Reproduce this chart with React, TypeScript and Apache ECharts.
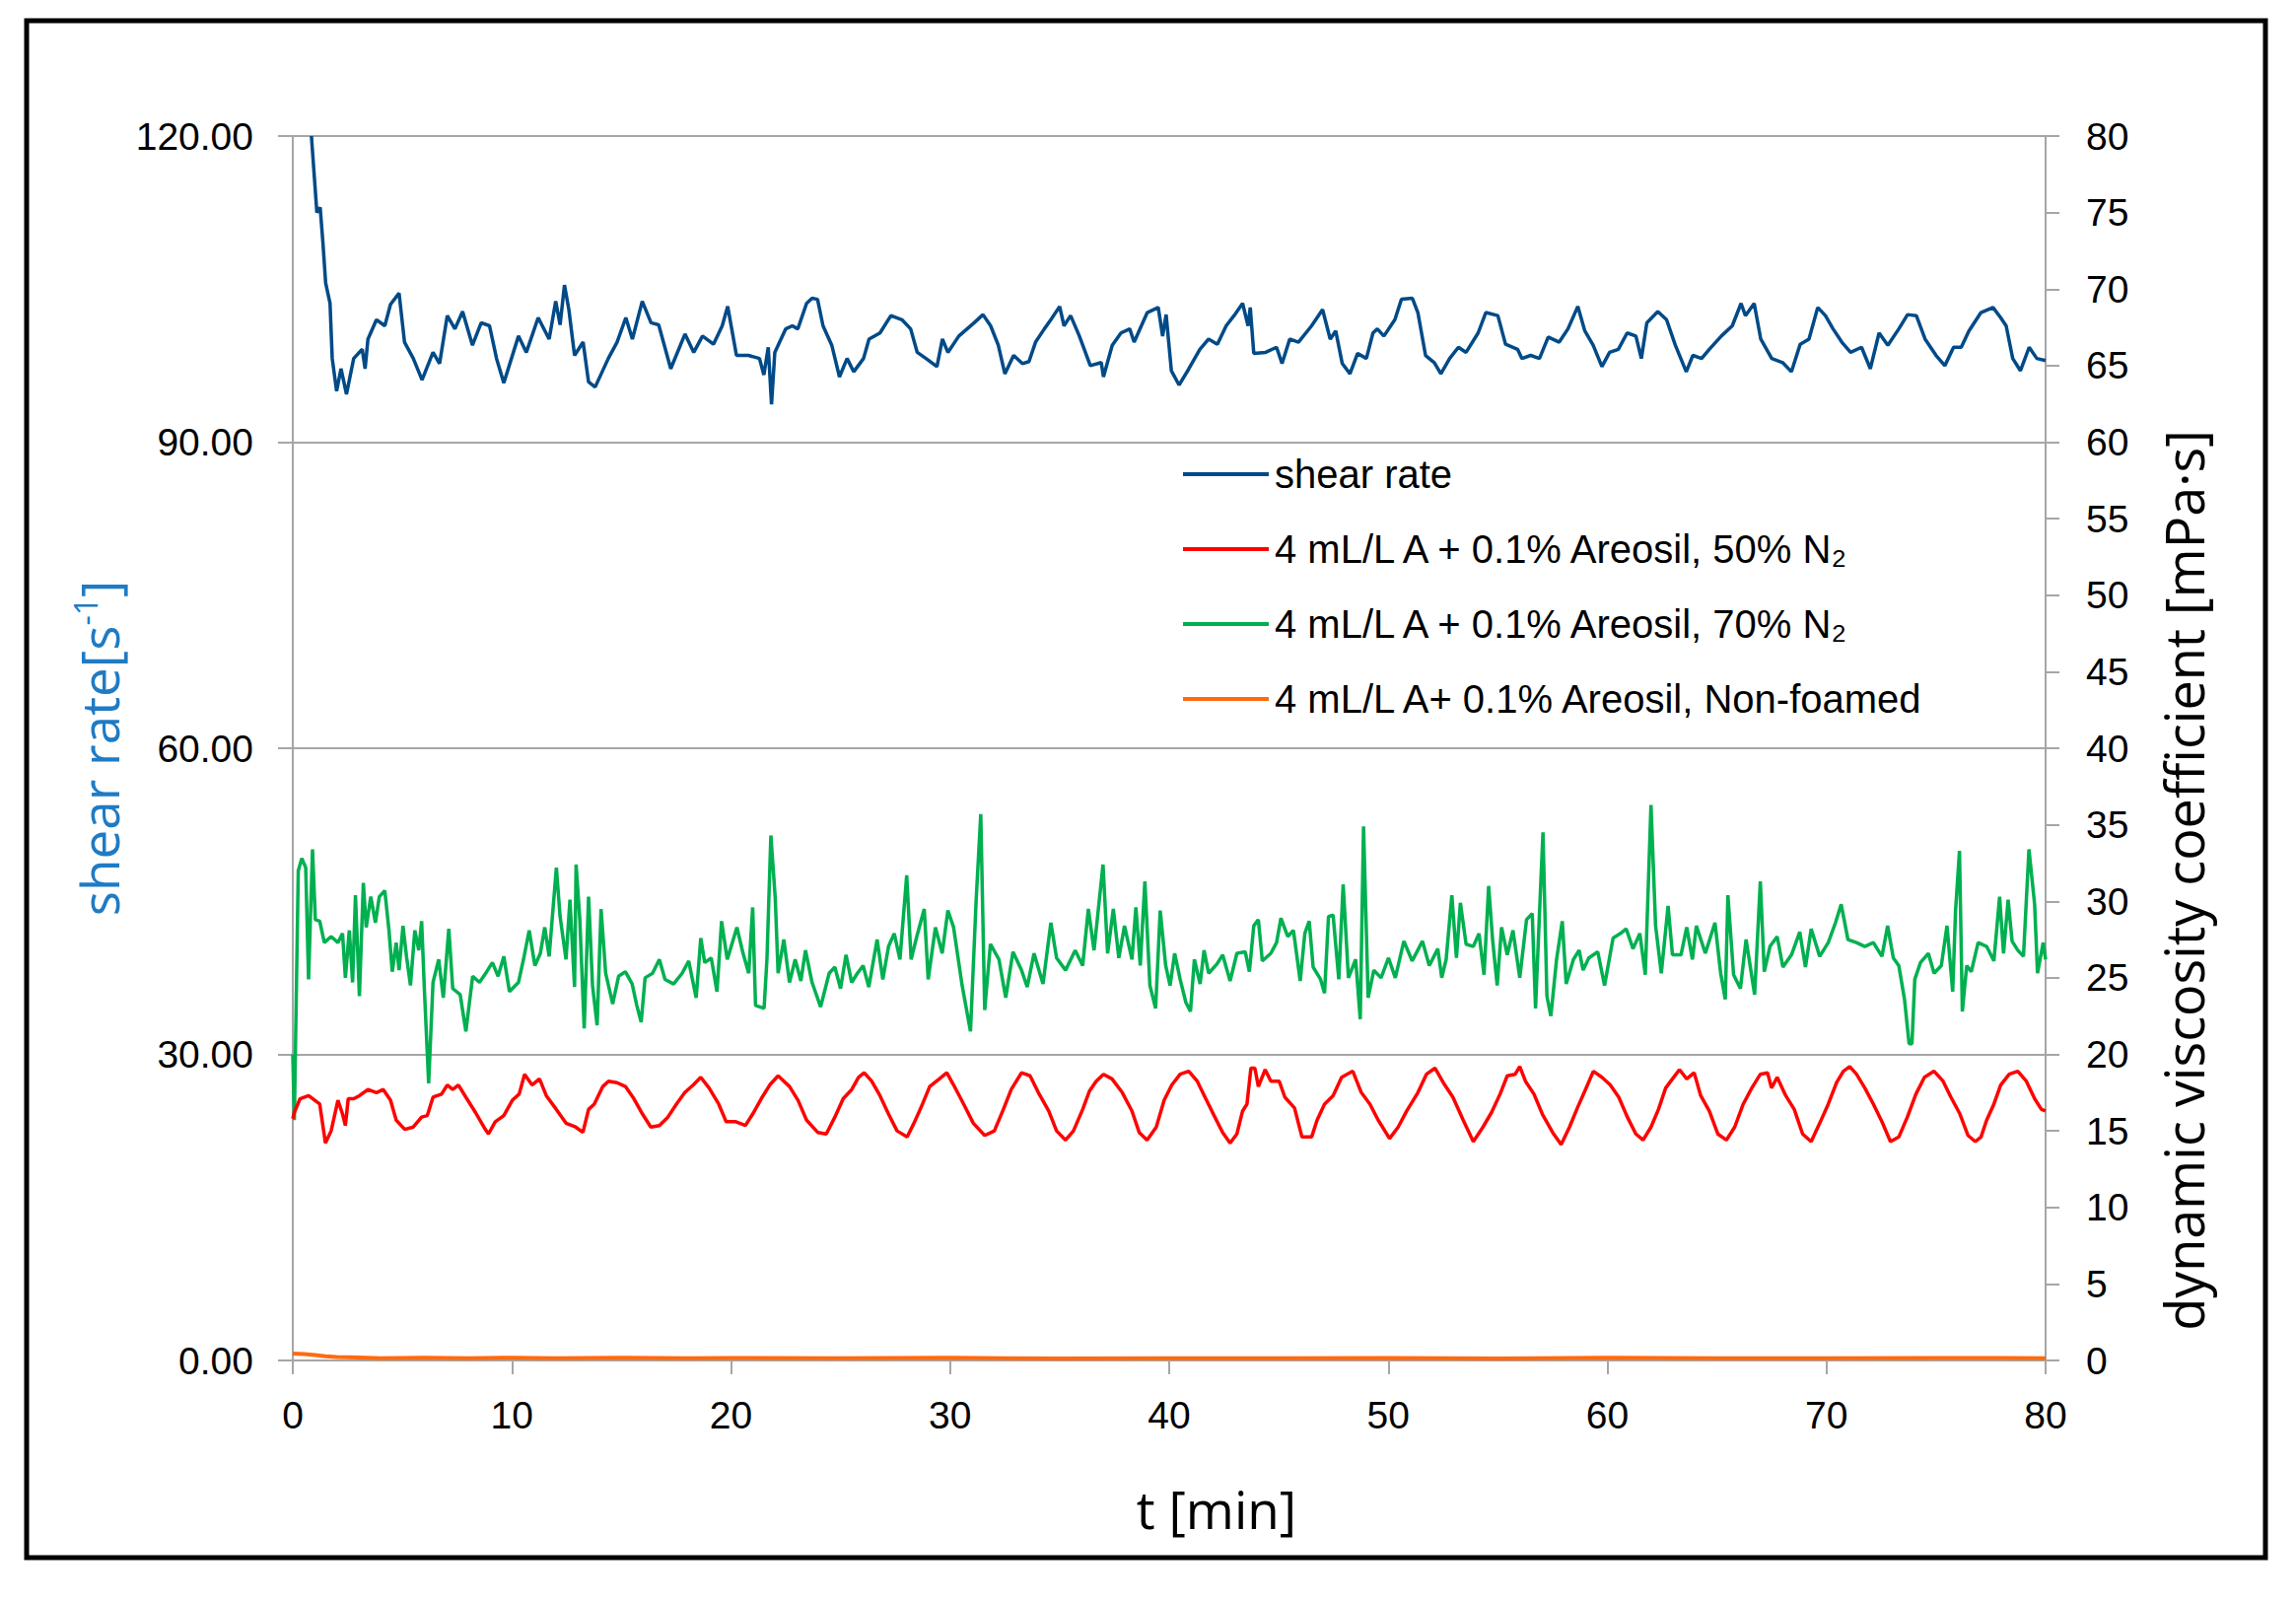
import React, { useEffect, useRef } from "react";
import * as echarts from "echarts";

// ---------- data (t [min], value) ----------
const xTicks = [0, 10, 20, 30, 40, 50, 60, 70, 80];

const seriesNames = [
  "shear rate",
  "4 mL/L A + 0.1% Areosil, 50% N₂",
  "4 mL/L A + 0.1% Areosil, 70% N₂",
  "4 mL/L A+ 0.1% Areosil, Non-foamed",
];

const seriesColors = ["#004A87", "#FF0000", "#00B050", "#FF6A10"];

// shear rate [1/s], left axis
const shearRate = [
  [0.85, 120], [1.1, 112.5], [1.25, 113], [1.38, 109.4], [1.5, 105.6], [1.7, 103.6], [1.8, 98.2], [2.0, 95], [2.2, 97.2], [2.45, 94.7],
  [2.78, 98.2], [3.17, 99.1], [3.3, 97.2], [3.43, 100.1], [3.82, 102.0], [4.2, 101.4], [4.46, 103.5], [4.85, 104.6], [5.1, 99.8], [5.5, 98.2],
  [5.9, 96.1], [6.4, 98.8], [6.7, 97.7], [7.05, 102.4], [7.4, 101.1], [7.75, 102.8], [8.2, 99.5], [8.6, 101.7], [8.98, 101.4], [9.3, 98.2],
  [9.63, 95.8], [10.3, 100.4], [10.66, 98.8], [11.2, 102.2], [11.7, 100.1], [12.0, 103.8], [12.2, 101.5], [12.4, 105.4], [12.6, 103], [12.86, 98.5],
  [13.25, 99.8], [13.5, 95.9], [13.8, 95.4], [14.4, 98.2], [14.8, 99.8], [15.2, 102.2], [15.5, 100.1], [15.95, 103.8], [16.35, 101.7], [16.7, 101.5],
  [17.25, 97.2], [17.9, 100.6], [18.3, 98.8], [18.7, 100.4], [19.2, 99.6], [19.6, 101.4], [19.85, 103.3], [20.25, 98.5], [20.8, 98.5], [21.3, 98.2],
  [21.5, 96.6], [21.7, 99.3], [21.85, 93.7], [22.0, 98.8], [22.5, 101.1], [22.8, 101.4], [23.05, 101.1], [23.45, 103.6], [23.7, 104.1], [23.95, 104],
  [24.2, 101.4], [24.6, 99.5], [24.95, 96.4], [25.3, 98.2], [25.6, 96.9], [26.05, 98.2], [26.3, 100.1], [26.8, 100.7], [27.3, 102.4], [27.8, 102.0],
  [28.2, 101.1], [28.5, 98.8], [28.9, 98.2], [29.4, 97.4], [29.65, 100.1], [29.9, 98.8], [30.4, 100.4], [31.1, 101.7], [31.5, 102.5], [31.85, 101.4],
  [32.2, 99.5], [32.5, 96.7], [32.9, 98.5], [33.3, 97.7], [33.6, 97.9], [33.9, 99.8], [34.3, 101.1], [34.6, 102], [35.0, 103.3], [35.2, 101.4],
  [35.5, 102.4], [35.9, 100.4], [36.4, 97.5], [36.9, 97.8], [37.0, 96.4], [37.4, 99.5], [37.8, 100.7], [38.2, 101.1], [38.4, 99.8], [39.0, 102.7],
  [39.5, 103.2], [39.7, 100.4], [39.86, 102.5], [40.1, 97], [40.45, 95.6], [40.9, 97.2], [41.4, 99.1], [41.8, 100.1], [42.2, 99.6], [42.6, 101.4],
  [42.96, 102.4], [43.35, 103.6], [43.6, 101.4], [43.7, 103.2], [43.86, 98.7], [44.4, 98.8], [44.9, 99.3], [45.15, 97.7], [45.5, 100.1], [45.9, 99.8],
  [46.5, 101.4], [47.0, 103], [47.35, 100.1], [47.6, 100.9], [47.9, 97.7], [48.25, 96.7], [48.6, 98.7], [49.0, 98.2], [49.3, 100.7], [49.5, 101.1],
  [49.8, 100.4], [50.3, 102.0], [50.6, 104.0], [51.1, 104.1], [51.35, 102.7], [51.7, 98.5], [52.1, 97.8], [52.4, 96.7], [52.8, 98.2], [53.2, 99.3],
  [53.55, 98.8], [54.1, 100.7], [54.45, 102.7], [55.0, 102.4], [55.35, 99.6], [55.9, 99.1], [56.1, 98.2], [56.5, 98.5], [56.9, 98.2], [57.3, 100.3],
  [57.8, 99.8], [58.2, 101.1], [58.65, 103.3], [58.97, 100.9], [59.35, 99.5], [59.75, 97.4], [60.1, 98.8], [60.5, 99.1], [60.9, 100.7], [61.3, 100.4],
  [61.55, 98.2], [61.8, 101.7], [62.3, 102.8], [62.7, 102.0], [63.1, 99.5], [63.6, 96.9], [63.9, 98.5], [64.3, 98.2], [64.65, 99.1], [65.2, 100.4],
  [65.7, 101.4], [66.1, 103.6], [66.3, 102.4], [66.7, 103.6], [67.0, 100.1], [67.5, 98.2], [68.0, 97.8], [68.4, 96.9], [68.8, 99.6], [69.2, 100.1],
  [69.6, 103.2], [69.95, 102.4], [70.3, 101.1], [70.7, 99.8], [71.1, 98.8], [71.6, 99.3], [72.0, 97.2], [72.4, 100.7], [72.8, 99.5], [73.3, 101.1],
  [73.7, 102.5], [74.1, 102.4], [74.5, 100.1], [75.0, 98.5], [75.4, 97.5], [75.8, 99.3], [76.15, 99.3], [76.5, 100.9], [77.05, 102.7], [77.6, 103.2],
  [77.95, 102.2], [78.2, 101.4], [78.5, 98.2], [78.85, 97.0], [79.25, 99.3], [79.6, 98.2], [80.0, 98.0],
];

// dynamic viscosity [mPa·s], right axis — 50% N2
const visc50 = [
  [0, 15.8], [0.07, 16.2], [0.33, 17.1], [0.72, 17.3], [1.23, 16.75], [1.49, 14.2], [1.75, 15.0], [2.06, 17], [2.27, 16.1], [2.4, 15.35],
  [2.53, 17.1], [2.78, 17.1], [3.04, 17.3], [3.43, 17.7], [3.82, 17.5], [4.13, 17.7], [4.46, 17], [4.72, 15.7], [5.11, 15.1], [5.5, 15.25],
  [5.88, 15.9], [6.14, 16], [6.4, 17.2], [6.79, 17.4], [7.05, 18.0], [7.3, 17.7], [7.56, 18.0], [7.9, 17.2], [8.34, 16.2], [8.72, 15.25],
  [8.93, 14.8], [9.24, 15.6], [9.63, 16], [10.02, 17], [10.33, 17.4], [10.58, 18.7], [10.92, 18.0], [11.26, 18.4], [11.57, 17.3], [12.03, 16.4],
  [12.47, 15.5], [12.91, 15.25], [13.24, 14.9], [13.5, 16.4], [13.76, 16.75], [14.15, 17.9], [14.41, 18.25], [14.8, 18.15], [15.18, 17.9], [15.57, 17.1],
  [15.96, 16.1], [16.34, 15.25], [16.73, 15.35], [17.12, 15.9], [17.51, 16.75], [17.89, 17.5], [18.28, 18.0], [18.62, 18.5], [19.0, 17.8], [19.44, 16.75],
  [19.78, 15.6], [20.22, 15.6], [20.66, 15.35], [20.99, 16.1], [21.38, 17.1], [21.77, 18.0], [22.15, 18.6], [22.67, 17.9], [23.06, 17], [23.45, 15.7],
  [23.96, 14.9], [24.35, 14.8], [24.74, 15.9], [25.12, 17.1], [25.51, 17.7], [25.82, 18.5], [26.08, 18.8], [26.42, 18.25], [26.8, 17.3], [27.19, 16.1],
  [27.58, 15.0], [28.04, 14.6], [28.35, 15.5], [28.74, 16.75], [29.07, 17.9], [29.51, 18.4], [29.85, 18.8], [30.16, 18.0], [30.62, 16.75], [31.06, 15.5],
  [31.58, 14.7], [32.02, 15.0], [32.43, 16.4], [32.79, 17.7], [33.26, 18.8], [33.65, 18.6], [34.03, 17.5], [34.5, 16.3], [34.86, 15.0], [35.27, 14.4],
  [35.63, 15.0], [36.05, 16.4], [36.36, 17.6], [36.67, 18.25], [37.0, 18.7], [37.39, 18.4], [37.86, 17.5], [38.3, 16.3], [38.63, 14.9], [38.99, 14.4],
  [39.41, 15.25], [39.77, 17], [40.12, 18.0], [40.5, 18.7], [40.89, 18.9], [41.28, 18.25], [41.67, 17.1], [42.05, 16], [42.44, 14.9], [42.78, 14.2],
  [43.09, 14.8], [43.35, 16.3], [43.55, 16.75], [43.73, 19.1], [43.91, 19.1], [44.07, 17.9], [44.38, 19], [44.64, 18.25], [45.02, 18.25], [45.28, 17.2],
  [45.72, 16.5], [46.06, 14.6], [46.5, 14.6], [46.75, 15.7], [47.09, 16.75], [47.48, 17.3], [47.87, 18.5], [48.38, 18.9], [48.77, 17.5], [49.16, 16.75],
  [49.54, 15.7], [50.06, 14.5], [50.45, 15.25], [50.84, 16.3], [51.35, 17.5], [51.74, 18.7], [52.13, 19.1], [52.51, 18.15], [52.95, 17.2], [53.42, 15.7],
  [53.88, 14.3], [54.32, 15.25], [54.71, 16.2], [55.1, 17.4], [55.43, 18.6], [55.79, 18.7], [56.0, 19.2], [56.26, 18.25], [56.65, 17.4], [57.03, 16.1],
  [57.5, 14.9], [57.89, 14.1], [58.27, 15.25], [58.63, 16.5], [58.97, 17.6], [59.36, 18.9], [59.75, 18.5], [60.13, 18.0], [60.52, 17.2], [60.91, 15.9],
  [61.3, 14.8], [61.63, 14.4], [61.99, 15.25], [62.33, 16.4], [62.66, 17.8], [62.97, 18.4], [63.29, 19], [63.62, 18.4], [63.96, 18.8], [64.26, 17.3],
  [64.65, 16.3], [65.04, 14.8], [65.43, 14.4], [65.81, 15.25], [66.2, 16.75], [66.59, 17.8], [66.98, 18.7], [67.31, 18.8], [67.49, 17.8], [67.75, 18.5],
  [68.14, 17.3], [68.53, 16.4], [68.91, 14.8], [69.3, 14.3], [69.69, 15.5], [70.08, 16.75], [70.46, 18.15], [70.77, 18.9], [71.06, 19.2], [71.37, 18.7],
  [71.75, 17.8], [72.14, 16.75], [72.53, 15.6], [72.92, 14.3], [73.3, 14.6], [73.69, 15.9], [74.08, 17.4], [74.47, 18.5], [74.91, 18.9], [75.32, 18.25],
  [75.68, 17.2], [76.09, 16.1], [76.46, 14.7], [76.79, 14.3], [77.05, 14.6], [77.31, 15.7], [77.64, 16.75], [77.95, 18.0], [78.34, 18.7], [78.73, 18.9],
  [79.12, 18.25], [79.5, 17.1], [79.81, 16.4], [80.0, 16.3],
];

// dynamic viscosity [mPa·s], right axis — 70% N2
const visc70 = [
  [0, 20], [0.07, 15.7], [0.25, 32], [0.41, 32.8], [0.59, 32.2], [0.72, 24.9], [0.9, 33.4], [1.03, 28.8], [1.23, 28.7], [1.44, 27.3],
  [1.75, 27.7], [2.06, 27.3], [2.27, 27.9], [2.4, 25], [2.58, 28.1], [2.73, 24.7], [2.86, 30.4], [3.04, 23.8], [3.22, 31.2], [3.35, 28.3],
  [3.56, 30.3], [3.77, 28.6], [3.95, 30.3], [4.2, 30.7], [4.39, 28.1], [4.54, 25.4], [4.72, 27.3], [4.85, 25.5], [5.03, 28.4], [5.19, 26.4],
  [5.37, 24.5], [5.57, 28.1], [5.75, 26.8], [5.88, 28.7], [6.01, 24.1], [6.2, 18.1], [6.4, 24.7], [6.66, 26.2], [6.87, 23.7], [7.12, 28.2],
  [7.3, 24.3], [7.64, 23.9], [7.9, 21.5], [8.21, 25.1], [8.52, 24.7], [8.85, 25.4], [9.11, 26], [9.37, 25.1], [9.63, 26.4], [9.89, 24.1],
  [10.3, 24.7], [10.53, 26.2], [10.79, 28.1], [11.05, 25.8], [11.3, 26.6], [11.5, 28.3], [11.7, 26.4], [12.03, 32.2], [12.2, 29], [12.47, 26.2],
  [12.65, 30.1], [12.86, 24.4], [12.93, 32.4], [13.1, 28.8], [13.3, 21.7], [13.5, 30.3], [13.68, 24.5], [13.89, 21.9], [14.07, 29.5], [14.28, 25.3],
  [14.6, 23.3], [14.87, 25.1], [15.18, 25.4], [15.49, 24.6], [15.7, 23.2], [15.9, 22.1], [16.08, 25], [16.42, 25.3], [16.73, 26.2], [16.99, 24.9],
  [17.38, 24.6], [17.77, 25.3], [18.07, 26.1], [18.41, 23.7], [18.62, 27.6], [18.8, 26], [19.1, 26.3], [19.36, 24.1], [19.57, 28.7], [19.83, 26.2],
  [20.27, 28.3], [20.55, 26.6], [20.81, 25.3], [20.99, 29.6], [21.12, 23.2], [21.51, 23], [21.64, 26.2], [21.82, 34.3], [22.02, 30.2], [22.15, 25.3],
  [22.41, 27.5], [22.67, 24.7], [22.93, 26.2], [23.19, 24.8], [23.4, 26.8], [23.7, 24.7], [24.09, 23.1], [24.48, 25.3], [24.74, 25.7], [25.0, 24.3],
  [25.25, 26.5], [25.51, 24.7], [25.77, 25.3], [26.03, 25.8], [26.29, 24.4], [26.67, 27.5], [26.93, 24.9], [27.19, 27.05], [27.45, 27.9], [27.71, 26.2],
  [28.02, 31.7], [28.22, 26.2], [28.48, 27.7], [28.82, 29.5], [29.0, 24.9], [29.33, 28.3], [29.64, 26.6], [29.9, 29.4], [30.16, 28.3], [30.55, 24.5],
  [30.93, 21.5], [31.19, 30.1], [31.4, 35.7], [31.58, 22.9], [31.84, 27.2], [32.23, 26.2], [32.54, 23.7], [32.87, 26.7], [33.26, 25.5], [33.52, 24.4],
  [33.83, 26.6], [34.24, 24.6], [34.6, 28.6], [34.86, 26.3], [35.27, 25.5], [35.71, 26.8], [36.05, 25.8], [36.31, 29.5], [36.57, 26.8], [36.98, 32.4],
  [37.19, 26.6], [37.45, 29.5], [37.7, 26.3], [37.96, 28.4], [38.3, 26.2], [38.48, 29.6], [38.68, 25.8], [38.89, 31.3], [39.12, 24.5], [39.38, 23],
  [39.59, 29.4], [39.84, 25.8], [40.04, 24.5], [40.25, 26.6], [40.5, 24.9], [40.76, 23.4], [40.97, 22.8], [41.15, 26.2], [41.41, 24.6], [41.59, 26.8],
  [41.8, 25.3], [42.18, 25.9], [42.44, 26.5], [42.78, 24.8], [43.09, 26.6], [43.47, 26.7], [43.66, 25.4], [43.86, 28.4], [44.07, 28.8], [44.25, 26.1],
  [44.64, 26.6], [44.9, 27.3], [45.1, 28.9], [45.41, 27.7], [45.67, 28.1], [45.98, 24.8], [46.19, 27.9], [46.39, 28.7], [46.57, 25.7], [46.91, 24.9],
  [47.09, 24.0], [47.27, 29], [47.48, 29.1], [47.74, 24.9], [47.94, 31.1], [48.18, 25], [48.51, 26.2], [48.72, 22.3], [48.87, 34.9], [49.08, 23.7],
  [49.34, 25.5], [49.67, 25], [50.01, 26.3], [50.32, 25], [50.71, 27.4], [51.09, 26.1], [51.56, 27.4], [51.87, 25.8], [52.26, 26.9], [52.44, 25],
  [52.64, 26.2], [52.9, 30.4], [53.11, 26.3], [53.29, 29.9], [53.55, 27.2], [53.88, 27.05], [54.14, 27.9], [54.37, 25.2], [54.58, 31], [54.76, 27.5],
  [54.97, 24.5], [55.17, 28.3], [55.43, 26.5], [55.69, 28.1], [56.0, 25], [56.31, 28.8], [56.57, 29.2], [56.72, 23], [56.9, 29.2], [57.06, 34.5],
  [57.24, 23.8], [57.42, 22.5], [57.68, 26.2], [57.94, 28.7], [58.12, 24.6], [58.45, 26.2], [58.71, 26.8], [58.89, 25.5], [59.15, 26.3], [59.56, 26.7],
  [59.87, 24.5], [60.26, 27.6], [60.6, 27.9], [60.86, 28.2], [61.17, 26.9], [61.48, 27.9], [61.73, 25.2], [61.99, 36.3], [62.2, 28.4], [62.46, 25.3],
  [62.77, 29.7], [62.97, 26.5], [63.36, 26.5], [63.62, 28.3], [63.88, 26.2], [64.06, 28.4], [64.47, 26.6], [64.91, 28.6], [65.17, 25.3], [65.38, 23.6],
  [65.5, 30.4], [65.76, 25.2], [66.07, 24.3], [66.33, 27.5], [66.72, 23.9], [66.98, 31.3], [67.16, 25.4], [67.42, 27.05], [67.75, 27.7], [68.01, 25.7],
  [68.4, 26.5], [68.78, 28], [69.04, 25.7], [69.3, 28.2], [69.69, 26.4], [70.08, 27.3], [70.41, 28.6], [70.67, 29.8], [70.98, 27.5], [71.37, 27.3],
  [71.75, 27.05], [72.14, 27.3], [72.53, 26.4], [72.79, 28.4], [73.05, 26.3], [73.3, 25.8], [73.56, 23.6], [73.77, 20.7], [73.9, 20.7], [74.03, 24.9],
  [74.29, 26], [74.65, 26.6], [74.91, 25.3], [75.24, 25.8], [75.5, 28.4], [75.76, 24.1], [75.89, 29.4], [76.07, 33.3], [76.2, 22.8], [76.4, 25.8],
  [76.61, 25.4], [76.92, 27.3], [77.31, 27.05], [77.64, 26.1], [77.9, 30.3], [78.08, 26.6], [78.29, 30.1], [78.47, 27.4], [78.73, 26.8], [78.99, 26.4],
  [79.24, 33.4], [79.5, 29.8], [79.63, 25.3], [79.89, 27.3], [80.0, 26.2],
];

// dynamic viscosity [mPa·s], right axis — non-foamed
const viscNonFoamed = [
  [0, 0.45], [0.5, 0.42], [1, 0.35], [1.5, 0.28], [2, 0.22], [3, 0.2], [4, 0.15], [6, 0.17], [8, 0.14], [10, 0.18],
  [12, 0.15], [15, 0.17], [18, 0.14], [20, 0.16], [25, 0.15], [30, 0.17], [35, 0.13], [40, 0.15], [45, 0.14], [50, 0.16],
  [55, 0.13], [60, 0.17], [65, 0.15], [70, 0.14], [75, 0.16], [80, 0.15],
];

const W = 2329;
const H = 1624;
const AXIS_GREY = "#A6A6A6";
const TICK_FONT = "Liberation Sans, Arial, sans-serif";
const TITLE_FONT = "Open Sans, Liberation Sans, sans-serif";

export default function App() {
  const ref = useRef<HTMLDivElement>(null);

  useEffect(() => {
    if (!ref.current) return;
    const chart = echarts.init(ref.current, undefined, { renderer: "svg" });
    const datasets = [shearRate, visc50, visc70, viscNonFoamed];
    const option = {
      animation: false,
      backgroundColor: "#ffffff",
      grid: { left: 297, right: W - 2075, top: 138, bottom: H - 1380, containLabel: false },
      graphic: [
        {
          type: "rect",
          shape: { x: 27, y: 21, width: 2271, height: 1559 },
          style: { fill: "none", stroke: "#000000", lineWidth: 5 },
          silent: true,
          z: 100,
        },
      ],
      legend: {
        orient: "vertical",
        left: 1195,
        top: 456,
        itemWidth: 87,
        itemHeight: 4,
        itemGap: 36,
        icon: "rect",
        data: seriesNames,
        textStyle: {
          fontFamily: TICK_FONT,
          fontSize: 40,
          color: "#000000",
          lineHeight: 40,
          padding: [0, 0, 0, 1],
        },
      },
      xAxis: {
        type: "value",
        min: xTicks[0],
        max: xTicks[xTicks.length - 1],
        interval: 10,
        name: "t [min]",
        nameLocation: "middle",
        nameGap: 124,
        nameTextStyle: { fontFamily: TITLE_FONT, fontSize: 53, color: "#000000", padding: [0, 0, 0, 96] },
        axisLine: { show: true, lineStyle: { color: AXIS_GREY, width: 2 } },
        axisTick: { show: true, inside: false, length: 14, lineStyle: { color: AXIS_GREY, width: 2 } },
        axisLabel: { fontFamily: TICK_FONT, fontSize: 39, color: "#000000", margin: 36 },
        splitLine: { show: false },
      },
      yAxis: [
        {
          type: "value",
          position: "left",
          min: 0,
          max: 120,
          interval: 30,
          name: "{n|shear rate[s}{s|-1}{n|]}",
          nameLocation: "middle",
          nameGap: 160,
          nameRotate: 90,
          nameTextStyle: {
            rich: {
              n: { fontFamily: TITLE_FONT, fontSize: 53, color: "#1F7BC4", lineHeight: 60 },
              s: { fontFamily: TITLE_FONT, fontSize: 32, color: "#1F7BC4", verticalAlign: "top", lineHeight: 38 },
            },
          },
          axisLine: { show: true, lineStyle: { color: AXIS_GREY, width: 2 } },
          axisTick: { show: true, inside: false, length: 15, lineStyle: { color: AXIS_GREY, width: 2 } },
          axisLabel: {
            fontFamily: TICK_FONT,
            fontSize: 39,
            color: "#000000",
            margin: 40,
            formatter: (v: number) => v.toFixed(2),
          },
          splitLine: { show: true, lineStyle: { color: AXIS_GREY, width: 2 } },
        },
        {
          type: "value",
          position: "right",
          min: 0,
          max: 80,
          interval: 5,
          name: "dynamic viscosity coefficient [mPa·s]",
          nameLocation: "middle",
          nameGap: 113,
          nameRotate: 90,
          nameTextStyle: {
            fontFamily: TITLE_FONT,
            fontSize: 54,
            color: "#000000",
            padding: [0, 268, 0, 0],
          },
          axisLine: { show: true, lineStyle: { color: AXIS_GREY, width: 2 } },
          axisTick: { show: true, inside: false, length: 14, lineStyle: { color: AXIS_GREY, width: 2 } },
          axisLabel: { fontFamily: TICK_FONT, fontSize: 39, color: "#000000", margin: 41 },
          splitLine: { show: false },
        },
      ],
      series: datasets.map((d, i) => ({
        name: seriesNames[i],
        type: "line",
        yAxisIndex: i === 0 ? 0 : 1,
        data: d,
        symbol: "none",
        showSymbol: false,
        clip: true,
        lineStyle: { color: seriesColors[i], width: i === 3 ? 4 : 3.5 },
        itemStyle: { color: seriesColors[i] },
        z: 3 + (3 - i),
      })),
    };
    chart.setOption(option as any);
    return () => chart.dispose();
  }, []);

  return (
    <div
      ref={ref}
      style={{ position: "fixed", left: 0, top: 0, width: W, height: H, background: "#ffffff" }}
    />
  );
}
